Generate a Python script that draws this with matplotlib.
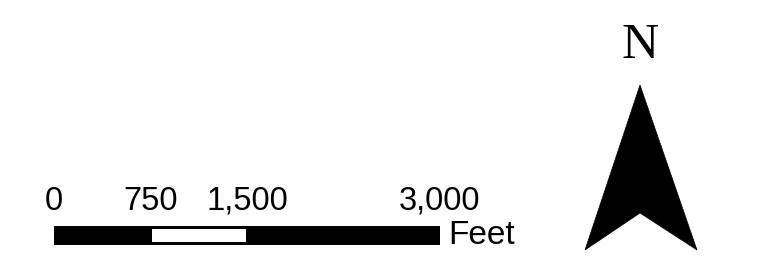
import matplotlib
matplotlib.use("Agg")
import matplotlib.pyplot as plt
from matplotlib.patches import Rectangle, Polygon

# Scale bar data
tick_values = [0, 750, 1500, 3000]
tick_labels = ["0", "750", "1,500", "3,000"]
segment_starts = [0, 750, 1500]
segment_ends = [750, 1500, 3000]
segment_colors = ["black", "white", "black"]
unit_label = "Feet"
north_label = "N"

W, H = 760, 276
fig = plt.figure(figsize=(W / 100, H / 100), dpi=100)
fig.patch.set_facecolor("white")

# Scale bar axes: x in feet, y in pixels (top-down)
x0_px, x1_px = 54, 440
ax = fig.add_axes([x0_px / W, 0, (x1_px - x0_px) / W, 1])
ax.set_xlim(tick_values[0], tick_values[-1])
ax.set_ylim(H, 0)
ax.axis("off")

bar_top, bar_bot = 226, 245
ax.add_patch(Rectangle((tick_values[0], bar_top), tick_values[-1] - tick_values[0],
                       bar_bot - bar_top, facecolor="black", edgecolor="none"))
px = (tick_values[-1] - tick_values[0]) / (x1_px - x0_px)
for s, e, c in zip(segment_starts, segment_ends, segment_colors):
    if c == "white":
        ax.add_patch(Rectangle((s + px, bar_top + 2.5), (e - s) - 2 * px,
                               bar_bot - bar_top - 5.5, facecolor="white",
                               edgecolor="none"))
for v, lab in zip(tick_values, tick_labels):
    ax.text(v, 210, lab, ha="center", va="baseline", fontsize=23.5,
            family="Liberation Sans", color="black")
ax.text(tick_values[-1] + 8 * px, 244, unit_label, ha="left", va="baseline",
        fontsize=24, family="Liberation Sans", color="black")

# North arrow axes in pixel coordinates
ax2 = fig.add_axes([0, 0, 1, 1])
ax2.set_xlim(0, W)
ax2.set_ylim(H, 0)
ax2.axis("off")
ax2.patch.set_alpha(0)
arrow = Polygon([(640, 85), (697, 250), (640, 213), (585, 250)], closed=True,
                facecolor="black", edgecolor="black", linewidth=0.5)
ax2.add_patch(arrow)
ax2.text(640, 58, north_label, ha="center", va="baseline", fontsize=37,
         family="Liberation Serif", color="black")

fig.savefig("out.png", dpi=100, facecolor="white")
